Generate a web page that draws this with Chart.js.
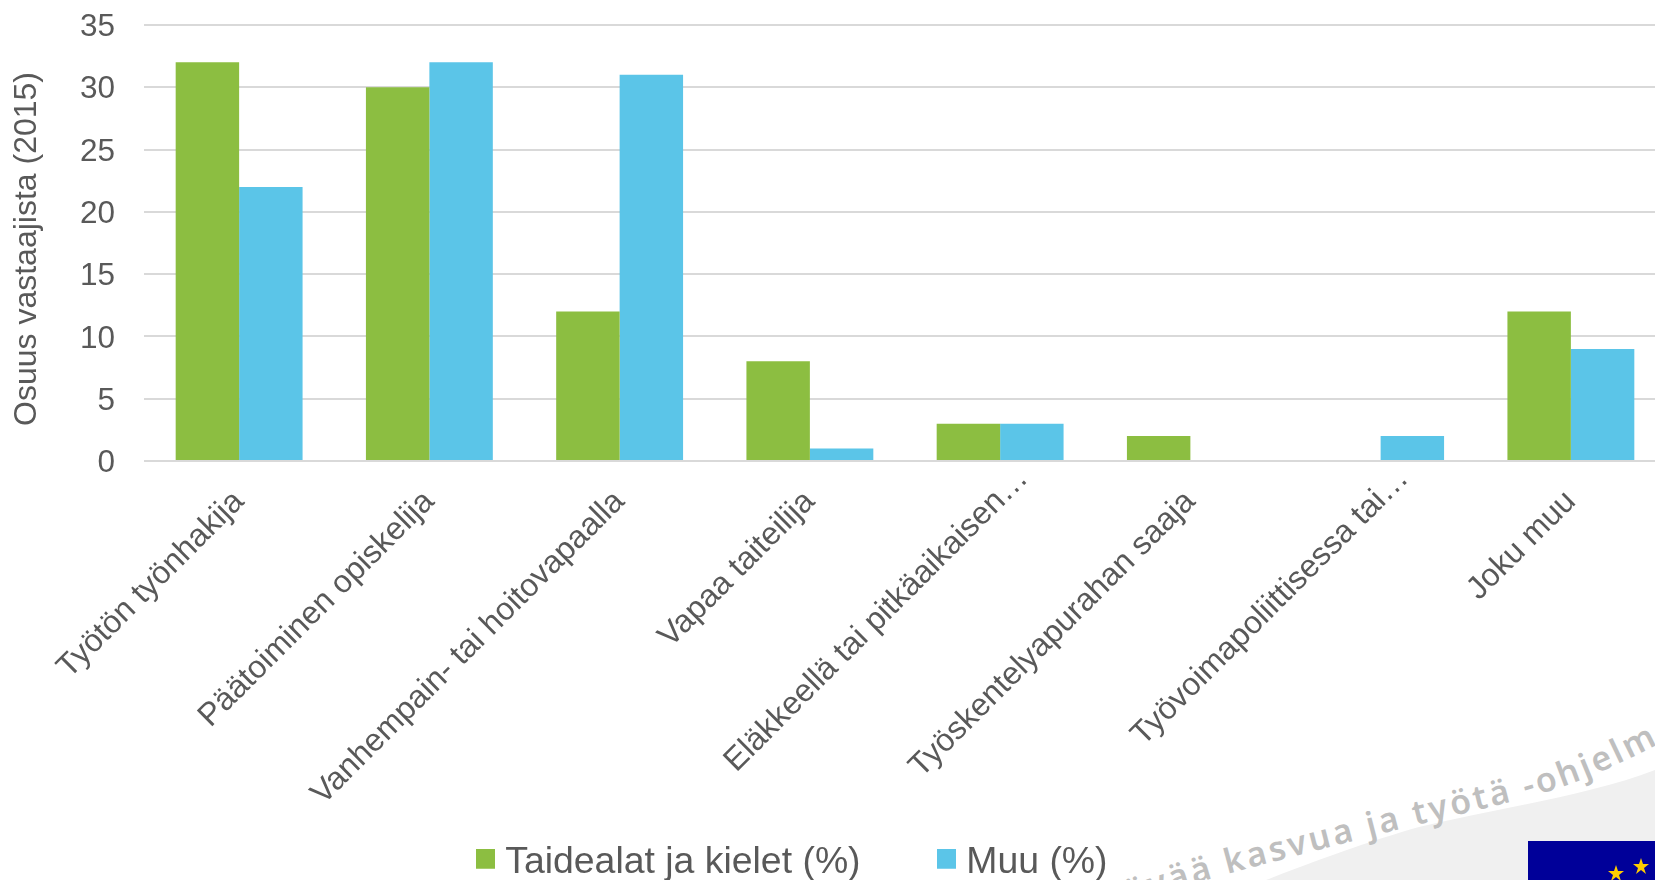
<!DOCTYPE html>
<html><head><meta charset="utf-8">
<style>
html,body{margin:0;padding:0;width:1655px;height:880px;overflow:hidden;background:#fff}
#bg{position:absolute;left:0;top:0;z-index:0}
#wrap{position:absolute;left:0;top:0;width:1666px;height:880px;z-index:1}
</style>
<script src="https://cdn.jsdelivr.net/npm/chart.js@4"></script>
</head><body>
<svg id="bg" width="1655" height="880" xmlns="http://www.w3.org/2000/svg">
<path d="M1266,880 C1330,855 1380,838 1419,827 C1500,808 1590,795 1655,770 L1655,880 Z" fill="#f0f0f0"/>
<path id="wm" d="M1040,940 C1110,910 1170,890 1231,873 C1290,857 1350,842 1404,828 C1460,814 1510,803 1553,790 C1590,778 1630,760 1700,722" fill="none"/>
<text font-family="Noto Sans" font-weight="600" font-size="34" fill="#bfbfbf" letter-spacing="3"><textPath href="#wm" startOffset="12">Kestävää kasvua ja työtä -ohjelma</textPath></text>
<rect x="1528" y="841" width="127" height="39" fill="#000099"/>
<polygon points="1616,865 1618,871 1624,871 1619,875 1621,881 1616,877 1611,881 1613,875 1608,871 1614,871" fill="#ffcc00"/>
<polygon points="1641,858 1643,864 1649,864 1644,868 1646,874 1641,870 1636,874 1638,868 1633,864 1639,864" fill="#ffcc00"/>
</svg>
<div id="wrap"><canvas id="c" width="1666" height="880"></canvas></div>
<script>
const categories=["Työtön työnhakija","Päätoiminen opiskelija","Vanhempain- tai hoitovapaalla","Vapaa taiteilija","Eläkkeellä tai pitkäaikaisen…","Työskentelyapurahan saaja","Työvoimapoliittisessa tai…","Joku muu"];
const seriesNames=["Taidealat ja kielet (%)","Muu (%)"];
const taide=[32,30,12,8,3,2,0,12];
const muu=[22,32,31,1,3,0,2,9];
const colors=["#8cbe41","#5bc5e8"];
const yTitle="Osuus vastaajista (2015)";
const TEXT="#595959", FONT="'Liberation Sans', Arial, sans-serif";
function swatch(col){const s=document.createElement('canvas');s.width=19;s.height=28;const g=s.getContext('2d');g.fillStyle=col;g.fillRect(0,0,19,20);return s;}
const swatches=colors.map(swatch);
const PAD=85;
const placeLegend={id:'placeLegend',
 beforeLayout(chart){const l=chart.legend;if(!l._patched){const f=l.fit;l.fit=function(){f.call(this);this.height=0;};l._patched=true;}},
 beforeDraw(chart){const l=chart.legend;l.left=484.5-PAD;l.right=l.left+1200;l.top=844-PAD;l.bottom=l.top+300;
  chart.scales.x.getLabelItems(chart.chartArea).forEach(it=>{
   if(String(it.label).endsWith('…')&&!it._moved){it.options.translation[0]+=23;it.options.translation[1]-=23;it._moved=true;}
  });
  chart.scales.y.getLabelItems(chart.chartArea).forEach(it=>{
   if(!it._moved){it.options.translation[1]+=2.5;it._moved=true;}
  });
  const y=chart.scales.y;
  if(!y._titleMoved){const t=y.drawTitle;y.drawTitle=function(){const c=this.ctx;c.save();c.translate(2,6);t.call(this);c.restore();};y._titleMoved=true;}
 }};
const noPad=a=>{a.paddingTop=a.paddingBottom=a.paddingLeft=a.paddingRight=0;};
new Chart(document.getElementById('c'),{
 type:'bar',
 data:{labels:categories,datasets:[
  {label:seriesNames[0],data:taide,backgroundColor:colors[0],borderWidth:0},
  {label:seriesNames[1],data:muu,backgroundColor:colors[1],borderWidth:0}]},
 plugins:[placeLegend],
 options:{
  responsive:false,animation:false,
  layout:{padding:{top:25,left:0,right:0,bottom:0}},
  datasets:{bar:{categoryPercentage:0.667,barPercentage:1}},
  plugins:{
   tooltip:{enabled:false},
   legend:{position:'bottom',align:'start',
    labels:{usePointStyle:true,pointStyleWidth:2,boxHeight:20,padding:PAD,color:TEXT,font:{family:FONT,size:37.4},
     generateLabels(chart){return Chart.defaults.plugins.legend.labels.generateLabels(chart).map((it,i)=>({...it,pointStyle:swatches[i]}));}}}
  },
  scales:{
   x:{grid:{display:false},border:{display:false},
    afterFit(a){a.height=419;noPad(a);},
    ticks:{autoSkip:false,minRotation:45,maxRotation:45,padding:14,color:TEXT,font:{family:FONT,size:32}}},
   y:{min:0,max:35,
    afterFit(a){a.width=144;noPad(a);},
    grid:{color:'#d9d9d9',lineWidth:2,drawTicks:false},border:{display:false},
    title:{display:true,text:yTitle,color:TEXT,font:{family:FONT,size:32},padding:{top:6,bottom:0}},
    ticks:{stepSize:5,padding:29,color:TEXT,font:{family:FONT,size:31.5}}}
  }
 }
});
</script>
</body></html>
